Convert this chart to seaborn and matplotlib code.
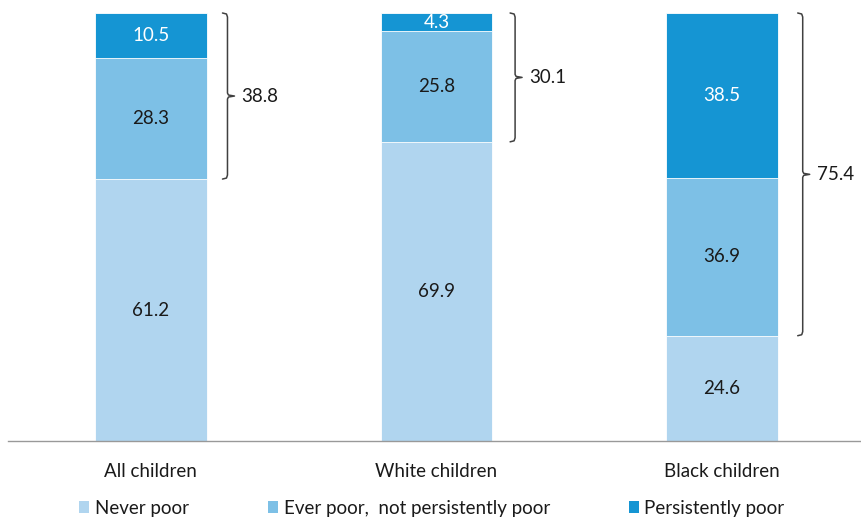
import numpy as np
import pandas as pd
import matplotlib.pyplot as plt
import seaborn as sns
from matplotlib.patches import Patch

# data (percent of children)
groups = ['All children', 'White children', 'Black children']
never_poor = [61.2, 69.9, 24.6]
ever_poor = [28.3, 25.8, 36.9]
persist_poor = [10.5, 4.3, 38.5]
bracket_totals = [38.8, 30.1, 75.4]

series_names = ['Never poor', 'Ever poor,  not persistently poor', 'Persistently poor']
colors = ['#B0D5EF', '#7DC0E6', '#1595D3']
text_colors = ['#1a1a1a', '#1a1a1a', 'white']

sns.set_style('white')
plt.rcParams['font.family'] = ['Lato', 'DejaVu Sans']
FS = 13.5

df = pd.DataFrame({'group': groups, 'never': never_poor,
                   'ever': ever_poor, 'persist': persist_poor})
df['lvl1'] = df['never']
df['lvl2'] = df['never'] + df['ever']
df['lvl3'] = df['lvl2'] + df['persist']

fig = plt.figure(figsize=(8.62, 5.21), dpi=100)
# x axis from px 8 to the right edge, 100% sits at px 13, baseline at px 441
ax = fig.add_axes([8 / 862, 80 / 521, 1 - 8 / 862, 428 / 521])

# stacked bars: draw the running totals from the top down
for col, c in zip(['lvl3', 'lvl2', 'lvl1'], colors[::-1]):
    sns.barplot(data=df, x='group', y=col, color=c, width=0.39,
                linewidth=0.6, edgecolor='white', saturation=1, ax=ax)

# segment labels
for i in range(len(groups)):
    bottoms = [0, never_poor[i], never_poor[i] + ever_poor[i]]
    vals = [never_poor[i], ever_poor[i], persist_poor[i]]
    for b, v, tc in zip(bottoms, vals, text_colors):
        ax.text(i, b + v / 2, f'{v:.1f}', ha='center', va='center',
                fontsize=FS, color=tc)

# curly brackets round the poor segments
px = 1 / 286          # x units per pixel
py = 100 / 428        # y units per pixel
for i, tot in enumerate(bracket_totals):
    lo = never_poor[i]
    hi = never_poor[i] + ever_poor[i] + persist_poor[i]
    mid = (lo + hi) / 2
    x0 = i + 0.195 + (21 + 2 * i) * px
    xs = [x0 - 5 * px, x0 - 1 * px, x0, x0, x0 + 1 * px, x0 + 7 * px,
          x0 + 1 * px, x0, x0, x0 - 1 * px, x0 - 5 * px]
    ys = [hi, hi - 1 * py, hi - 4 * py, mid + 3 * py, mid + 1 * py, mid,
          mid - 1 * py, mid - 3 * py, lo + 4 * py, lo + 1 * py, lo]
    ax.plot(xs, ys, color='#404040', lw=1.1, clip_on=False,
            solid_joinstyle='round')
    ax.text(x0 + 14 * px, mid, f'{tot:.1f}', ha='left', va='center',
            fontsize=FS, color='#1a1a1a', clip_on=False)

ax.set_xlim(-0.5, 2.49)
ax.set_ylim(0, 100)
ax.set_xlabel('')
ax.set_ylabel('')
ax.set_yticks([])
ax.set_xticks([-0.5, 0.5, 1.5], minor=True)
ax.set_xticks(range(len(groups)))
ax.set_xticklabels(groups, fontsize=FS, color='#1a1a1a')
ax.tick_params(axis='x', which='major', length=0, pad=16)
ax.tick_params(axis='x', which='minor', length=5, color='#999999',
               direction='in')
for s in ['top', 'right', 'left']:
    ax.spines[s].set_visible(False)
ax.spines['bottom'].set_color('#999999')
ax.spines['bottom'].set_linewidth(1)

handles = [Patch(facecolor=c, edgecolor='none') for c in colors]
fig.legend(handles, series_names, loc='lower left', ncol=3,
           bbox_to_anchor=(62 / 862, -0.024), frameon=False, fontsize=FS,
           handlelength=0.55, handleheight=0.55, handletextpad=0.3,
           columnspacing=4.2, labelcolor='#1a1a1a')

fig.savefig('out.png', dpi=100)
